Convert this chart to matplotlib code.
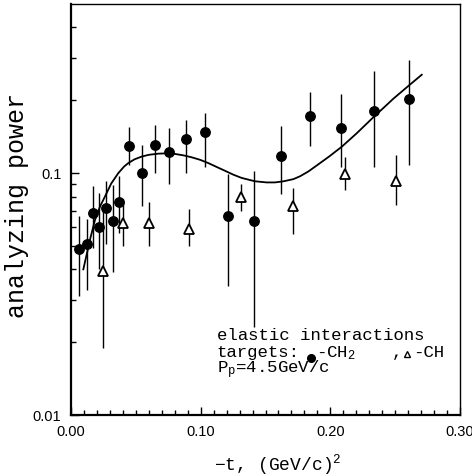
import matplotlib
matplotlib.use("Agg")
import matplotlib.pyplot as plt
from matplotlib.ticker import FixedLocator, MultipleLocator, NullFormatter

plt.rcParams['mathtext.fontset'] = 'custom'
plt.rcParams['mathtext.rm'] = 'Liberation Mono'
plt.rcParams['mathtext.it'] = 'Liberation Mono'

# CH2 target (filled circles)
ch2_t = [0.0064, 0.0126, 0.0172, 0.0218, 0.0270, 0.0321, 0.0370, 0.0450, 0.0550, 0.0648,
         0.0756, 0.0885, 0.1036, 0.1211, 0.1411, 0.1617, 0.1843, 0.2080, 0.2339, 0.2604]
ch2_a = [0.0487, 0.0507, 0.0687, 0.0599, 0.0714, 0.0634, 0.0763, 0.1299, 0.1000, 0.1310,
         0.1226, 0.1384, 0.1476, 0.0665, 0.0634, 0.1180, 0.1720, 0.1530, 0.1814, 0.2030]
ch2_hi = [0.0665, 0.0644, 0.0886, 0.0830, 0.0930, 0.0890, 0.0975, 0.1550, 0.1310, 0.1580,
          0.1540, 0.1650, 0.1780, 0.0990, 0.1020, 0.1560, 0.2170, 0.2120, 0.2640, 0.2940]
ch2_lo = [0.0310, 0.0330, 0.0492, 0.0400, 0.0510, 0.0390, 0.0565, 0.1080, 0.0730, 0.1000,
          0.0900, 0.1000, 0.1060, 0.0340, 0.0230, 0.0820, 0.1300, 0.1060, 0.1060, 0.1080]

# CH target (open triangles)
ch_t = [0.0244, 0.0399, 0.0602, 0.0908, 0.1311, 0.1714, 0.2113, 0.2506]
ch_a = [0.0393, 0.0620, 0.0620, 0.0586, 0.0797, 0.0732, 0.0990, 0.0930]
ch_hi = [0.0700, 0.0780, 0.0760, 0.0710, 0.0900, 0.0870, 0.1160, 0.1190]
ch_lo = [0.0190, 0.0500, 0.0500, 0.0500, 0.0700, 0.0560, 0.0850, 0.0740]

# fitted curve
fit_t = [0.0095, 0.0147, 0.0185, 0.0225, 0.0262, 0.0310, 0.0365, 0.0410, 0.0442, 0.0490,
         0.0545, 0.0600, 0.0673, 0.0740, 0.0802, 0.0870, 0.0931, 0.0995, 0.1059, 0.1120,
         0.1188, 0.1252, 0.1316, 0.1419, 0.1509, 0.1573, 0.1640, 0.1715, 0.1766, 0.1830,
         0.1895, 0.1990, 0.2088, 0.2203, 0.2331, 0.2410, 0.2486, 0.2601, 0.2705]
fit_a = [0.0400, 0.0532, 0.0640, 0.0730, 0.0800, 0.0905, 0.1000, 0.1065, 0.1100, 0.1140,
         0.1170, 0.1190, 0.1203, 0.1207, 0.1200, 0.1183, 0.1162, 0.1135, 0.1100, 0.1062,
         0.1022, 0.0985, 0.0955, 0.0925, 0.0915, 0.0915, 0.0925, 0.0944, 0.0970, 0.1015,
         0.1075, 0.1170, 0.1285, 0.1460, 0.1700, 0.1860, 0.2030, 0.2290, 0.2550]

fig = plt.figure(figsize=(4.72, 4.76), dpi=100)
ax = fig.add_axes([71/472, 1 - 415/476, 389/472, 411/476])
ax.set_yscale('log')
ax.set_xlim(0, 0.30)
ax.set_ylim(0.01, 0.5)

ax.plot(fit_t, fit_a, color='black', lw=1.3, zorder=2, solid_joinstyle='round')

ch2_err = [[a - l for a, l in zip(ch2_a, ch2_lo)], [h - a for a, h in zip(ch2_a, ch2_hi)]]
ax.errorbar(ch2_t, ch2_a, yerr=ch2_err, fmt='o', color='black', ms=6.8,
            elinewidth=1.0, capsize=0, zorder=3)
ch_err = [[a - l for a, l in zip(ch_a, ch_lo)], [h - a for a, h in zip(ch_a, ch_hi)]]
ax.errorbar(ch_t, ch_a, yerr=ch_err, fmt='^', color='black', mfc='white', mec='black',
            mew=1.3, ms=7, elinewidth=1.0, capsize=0, zorder=3)

ax.xaxis.set_major_locator(FixedLocator([0.0, 0.1, 0.2, 0.3]))
ax.xaxis.set_minor_locator(MultipleLocator(0.01))
ax.set_xticklabels(['0.00', '0.10', '0.20', '0.30'])
ax.yaxis.set_major_locator(FixedLocator([0.01, 0.1]))
ax.yaxis.set_minor_locator(FixedLocator([0.02, 0.03, 0.04, 0.05, 0.06, 0.07, 0.08, 0.09,
                                         0.2, 0.3, 0.4]))
ax.yaxis.set_minor_formatter(NullFormatter())
ax.set_yticklabels(['0.01', '0.1'])

ax.tick_params(which='both', direction='in', top=False, right=False, width=1.0)
ax.tick_params(which='major', length=6, labelsize=10.5, pad=7)
ax.tick_params(which='minor', length=3.5)
for lab in ax.get_xticklabels() + ax.get_yticklabels():
    lab.set_fontfamily('Liberation Sans')

for s in ['left', 'bottom']:
    ax.spines[s].set_linewidth(1.6)
for s in ['top', 'right']:
    ax.spines[s].set_linewidth(1.0)

ax.set_ylabel('analyzing power', fontsize=18, family='Liberation Mono')
ax.yaxis.set_label_coords(-0.108, 0.51)
ax.set_xlabel('\u2212t, (GeV/c)$^2$', fontsize=13, family='Liberation Mono')
ax.xaxis.set_label_coords(0.532, -0.09)

fs = 12.5
tf = 'Liberation Mono'
ax.text(0.3746, 0.1825, 'elastic interactions', transform=ax.transAxes, fontsize=fs,
        family=tf, va='baseline')
ax.text(0.3746, 0.141, 'targets:', transform=ax.transAxes, fontsize=fs, family=tf, va='baseline')
ax.text(0.630, 0.141, '-CH$_2$', transform=ax.transAxes, fontsize=fs, family=tf, va='baseline')
ax.text(0.838, 0.141, ',', transform=ax.transAxes, fontsize=fs, family=tf, va='baseline',
        ha='center')
ax.text(0.879, 0.141, '-CH', transform=ax.transAxes, fontsize=fs, family=tf, va='baseline')
ax.plot([0.617], [(415 - 358) / 411], 'o', color='black', ms=5.5, transform=ax.transAxes)
ax.plot([0.864], [(415 - 354) / 411], '^', color='black', mfc='white', mew=1.0, ms=4.5,
        transform=ax.transAxes)
ax.text(0.3746, 0.102, 'P$_p$=4.5GeV/c', transform=ax.transAxes, fontsize=fs,
        family=tf, va='baseline')

fig.savefig('out.png', dpi=100)
